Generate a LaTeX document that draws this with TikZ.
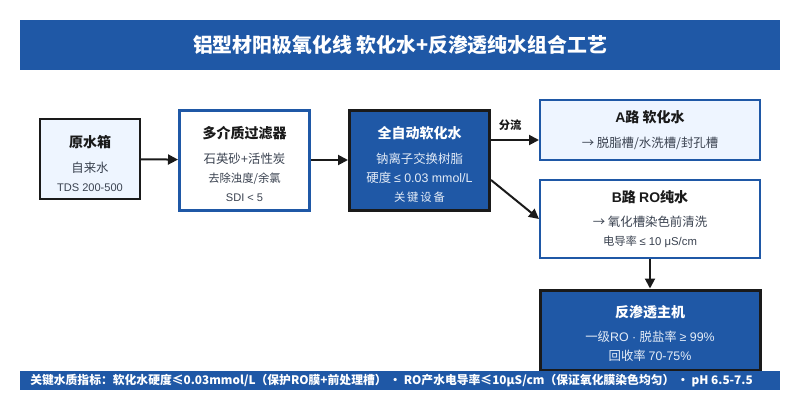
\documentclass[tikz,border=0pt]{standalone}
\usepackage{fontspec}
\setmainfont{Noto Sans CJK SC}
\newfontfamily\lat{Liberation Sans}
\usetikzlibrary{arrows.meta,positioning}
\definecolor{ink}{HTML}{1A1A1A}
\definecolor{deep}{HTML}{1F58A6}
\definecolor{pale}{HTML}{EEF5FF}
\definecolor{soft}{HTML}{3A4250}
\definecolor{mist}{HTML}{E4ECF7}
\newcommand{\boxhead}[1]{{\fontsize{10.5}{12}\selectfont\bfseries #1}}

\begin{document}
\begin{tikzpicture}[x=0.75pt,y=-0.75pt,
  box/.style={rectangle,align=center,inner sep=0pt,font=\fontsize{9.3}{14.25}\selectfont,text=soft},
  flow/.style={-{Triangle[length=7.5pt,width=7.5pt]},line width=1.5pt,draw=ink}]
\useasboundingbox (0,0) rectangle (800,400);
% title bar
\node[fill=deep,minimum width=570pt,minimum height=37.5pt,text=white,font=\fontsize{14.9}{16}\selectfont\bfseries] (title) at (400,45) {铝型材阳极氧化线 软化水+反渗透纯水组合工艺};
% process boxes
\node[box,draw=ink,fill=pale,line width=1.5pt,minimum width=75pt,minimum height=60pt,text height=49.5pt] (tank) at (90,159)
  {\boxhead{\color{ink}原水箱}\\[4.5pt]自来水\\{\lat\fontsize{8.3}{12}\selectfont TDS 200-500}};
\node[box,draw=deep,fill=white,line width=2.25pt,minimum width=97.5pt,minimum height=75pt,text height=63pt] (filter) at (244.5,160)
  {\boxhead{\color{ink}多介质过滤器}\\[4.5pt]石英砂{\lat +}活性炭\\{\fontsize{8.5}{12}\selectfont 去除浊度/余氯}\\{\lat\fontsize{8.3}{12}\selectfont SDI < 5}};
\node[box,draw=ink,fill=deep,line width=2.25pt,text=mist,minimum width=105pt,minimum height=75pt,text height=63pt] (soft) at (419.5,160)
  {\boxhead{\color{white}全自动软化水}\\[4.5pt]钠离子交换树脂\\硬度 {\lat ≤ 0.03 mmol/L}\\{\fontsize{8.5}{12}\selectfont 关\,键\,设\,备}};
\node[box,draw=deep,fill=pale,line width=1.5pt,minimum width=165pt,minimum height=45pt] (apath) at (650,130)
  {\boxhead{\color{ink}{\lat A}路 软化水}\\[4pt]→ 脱脂槽/水洗槽/封孔槽};
\node[box,draw=deep,fill=white,line width=1.5pt,minimum width=165pt,minimum height=58.5pt] (bpath) at (650,219)
  {\boxhead{\color{ink}{\lat B}路 {\lat RO}纯水}\\[4pt]→ 氧化槽染色前清洗\\{\fontsize{8.5}{12}\selectfont 电导率 {\lat ≤ 10 μS/cm}}};
\node[box,draw=ink,fill=deep,line width=2.25pt,text=mist,minimum width=165pt,minimum height=60pt,text height=46.5pt] (ro) at (650,330)
  {\boxhead{\color{white}反渗透主机}\\[4pt]一级{\lat RO · }脱盐率 {\lat ≥ 99\%}\\回收率 {\lat 70-75\%}};
% connectors
\draw[flow] (tank) -- (filter);
\draw[flow] (filter) -- (soft);
\draw[flow] ([yshift=15pt]soft.east) -- ([yshift=15pt]soft.east -| apath.west)
  node[pos=.4,above=3pt,text=ink,font=\fontsize{8.5}{10}\selectfont\bfseries] {分流};
\draw[flow] ([yshift=-15pt]soft.east) -- (bpath.west);
\draw[flow] (bpath) -- (ro);
% key figures
\node[fill=deep,minimum width=570pt,minimum height=14.5pt,inner sep=0pt] (bar) at (400,380.5) {};
\node[right,inner sep=0pt,text=white,font=\fontsize{8.85}{10}\selectfont\bfseries] (keys) at (30,380.5)
  {关键水质指标：软化水硬度≤0.03mmol/L（保护RO膜+前处理槽） · RO产水电导率≤10μS/cm（保证氧化膜染色均匀） · pH 6.5-7.5};
\end{tikzpicture}
\end{document}
